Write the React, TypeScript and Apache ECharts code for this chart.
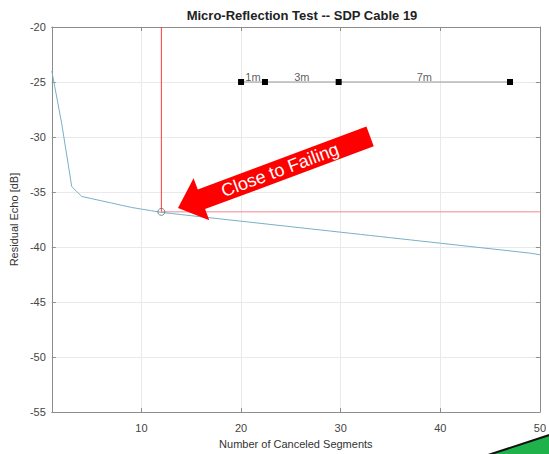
import React, { useEffect, useRef } from "react";
import * as echarts from "echarts";

const segX: number[] = [1, 2, 3, 4, 5, 6, 7, 8, 9, 10, 11, 12, 13, 14, 15, 16, 17, 18, 19, 20, 21, 22, 23, 24, 25, 26, 27, 28, 29, 30, 31, 32, 33, 34, 35, 36, 37, 38, 39, 40, 41, 42, 43, 44, 45, 46, 47, 48, 49, 50];
const echoDb: number[] = [-24.0, -28.8, -34.5, -35.4, -35.6, -35.8, -36.0, -36.2, -36.4, -36.55, -36.7, -36.85, -36.95, -37.05, -37.15, -37.25, -37.35, -37.45, -37.55, -37.65, -37.75, -37.85, -37.95, -38.05, -38.15, -38.25, -38.35, -38.45, -38.55, -38.65, -38.75, -38.85, -38.95, -39.05, -39.15, -39.25, -39.35, -39.45, -39.55, -39.65, -39.75, -39.85, -39.95, -40.05, -40.15, -40.25, -40.35, -40.45, -40.55, -40.7];

const failX = 12;
const failY = -36.8;

const cableMarkX: number[] = [20, 22.4, 29.8, 47];
const cableMarkY = -25;
const cableLabels: string[] = ["1m", "3m", "7m"];

const xTicks: number[] = [10, 20, 30, 40, 50];

const FONT = "Liberation Sans, Arial, Helvetica, sans-serif";

export default function App() {
  const ref = useRef<HTMLDivElement>(null);
  useEffect(() => {
    if (!ref.current) return;
    const chart = echarts.init(ref.current, undefined, { renderer: "svg" });

    const curve = segX.map((x, i) => [x, echoDb[i]]);
    const cableLine = cableMarkX.map((x) => [x, cableMarkY]);
    const cableLabelData = cableLabels.map((t, i) => ({
      value: [(cableMarkX[i] + cableMarkX[i + 1]) / 2, cableMarkY],
      label: { formatter: t },
    }));

    const axisLineColor = "#8c8c8c";
    const gridColor = "#e9e9e9";

    // arrow geometry (annotation)
    const tip = [178, 208];
    const u = [0.937, -0.349];
    const n = [0.349, 0.937];
    const pt = (a: number, b: number) => [tip[0] + a * u[0] + b * n[0], tip[1] + a * u[1] + b * n[1]];
    const arrowPts = [
      pt(0, 0),
      pt(25, -22.5),
      pt(25, -10.5),
      pt(205, -10.5),
      pt(205, 10.5),
      pt(25, 10.5),
      pt(25, 22.5),
    ];

    chart.setOption({
      animation: false,
      backgroundColor: "#ffffff",
      textStyle: { fontFamily: FONT },
      title: {
        text: "Micro-Reflection Test -- SDP Cable 19",
        left: 297,
        top: 4,
        textAlign: "center",
        textStyle: { fontSize: 13, fontWeight: "bold", color: "#222", fontFamily: FONT },
      },
      grid: { left: 51, right: 6, top: 27, bottom: 38, containLabel: false },
      xAxis: [
        {
          type: "value",
          min: 1,
          max: 50,
          name: "Number of Canceled Segments",
          nameLocation: "middle",
          nameGap: 24,
          nameTextStyle: { fontSize: 11, color: "#333", fontFamily: FONT },
          axisLine: { show: true, lineStyle: { color: axisLineColor } },
          axisTick: { show: true, inside: true, length: 4, lineStyle: { color: axisLineColor }, customValues: xTicks },
          axisLabel: { fontSize: 11, color: "#444", margin: 10, customValues: xTicks, fontFamily: FONT },
          splitLine: { show: true, lineStyle: { color: gridColor } },
        },
        {
          type: "value",
          min: 1,
          max: 50,
          position: "top",
          axisLine: { show: true, lineStyle: { color: axisLineColor } },
          axisTick: { show: true, inside: true, length: 4, lineStyle: { color: axisLineColor }, customValues: xTicks },
          axisLabel: { show: false, customValues: xTicks },
          splitLine: { show: false },
        },
      ],
      yAxis: [
        {
          type: "value",
          min: -55,
          max: -20,
          interval: 5,
          name: "Residual Echo [dB]",
          nameLocation: "middle",
          nameGap: 28,
          nameTextStyle: { fontSize: 11, color: "#333", fontFamily: FONT },
          axisLine: { show: true, lineStyle: { color: axisLineColor } },
          axisTick: { show: true, inside: true, length: 4, lineStyle: { color: axisLineColor } },
          axisLabel: { fontSize: 11, color: "#444", margin: 6, fontFamily: FONT },
          splitLine: { show: true, lineStyle: { color: gridColor } },
        },
        {
          type: "value",
          min: -55,
          max: -20,
          interval: 5,
          position: "right",
          axisLine: { show: true, lineStyle: { color: axisLineColor } },
          axisTick: { show: true, inside: true, length: 4, lineStyle: { color: axisLineColor } },
          axisLabel: { show: false },
          splitLine: { show: false },
        },
      ],
      series: [
        {
          type: "line",
          data: curve,
          showSymbol: false,
          symbol: "none",
          lineStyle: { color: "#78b0c6", width: 1 },
          z: 3,
        },
        {
          type: "line",
          data: [[failX, -20], [failX, failY]],
          symbol: "none",
          itemStyle: { color: "#ff3b3b" },
          lineStyle: { color: "#ff3b3b", width: 1 },
          z: 2,
        },
        {
          type: "line",
          data: [[failX, failY], [50, failY]],
          symbol: "none",
          itemStyle: { color: "#f08a90" },
          lineStyle: { color: "#f08a90", width: 1 },
          z: 2,
        },
        {
          type: "scatter",
          data: [[failX, failY]],
          symbol: "circle",
          symbolSize: 7,
          itemStyle: { color: "rgba(255,255,255,0)", borderColor: "#6a6a6a", borderWidth: 1 },
          z: 4,
        },
        {
          type: "line",
          data: cableLine,
          symbol: "rect",
          symbolSize: 6,
          showAllSymbol: true,
          lineStyle: { color: "#9a9a9a", width: 1.2 },
          itemStyle: { color: "#000" },
          z: 4,
        },
        {
          type: "scatter",
          data: cableLabelData,
          symbolSize: 0,
          itemStyle: { color: "rgba(0,0,0,0)" },
          label: {
            show: true,
            position: "top",
            distance: 0,
            fontSize: 11,
            color: "#333",
            fontFamily: FONT,
          },
          z: 5,
        },
      ],
      graphic: [
        {
          type: "polygon",
          shape: { points: arrowPts },
          style: { fill: "#ff0000" },
          z: 100,
        },
        {
          type: "text",
          x: 280,
          y: 170,
          rotation: 0.356,
          style: {
            text: "Close to Failing",
            fill: "#ffffff",
            font: `18px ${FONT}`,
            align: "center",
            verticalAlign: "middle",
          },
          z: 101,
        },
        {
          type: "polygon",
          shape: { points: [[490, 454], [549, 435], [549, 454]] },
          style: { fill: "#1fb24a" },
          z: 100,
        },
        {
          type: "line",
          shape: { x1: 488, y1: 455, x2: 551, y2: 434.5 },
          style: { stroke: "#111", lineWidth: 2 },
          z: 101,
        },
      ],
    });

    return () => chart.dispose();
  }, []);

  return (
    <div
      ref={ref}
      style={{ position: "absolute", left: 0, top: 0, width: 549, height: 454 }}
    />
  );
}
